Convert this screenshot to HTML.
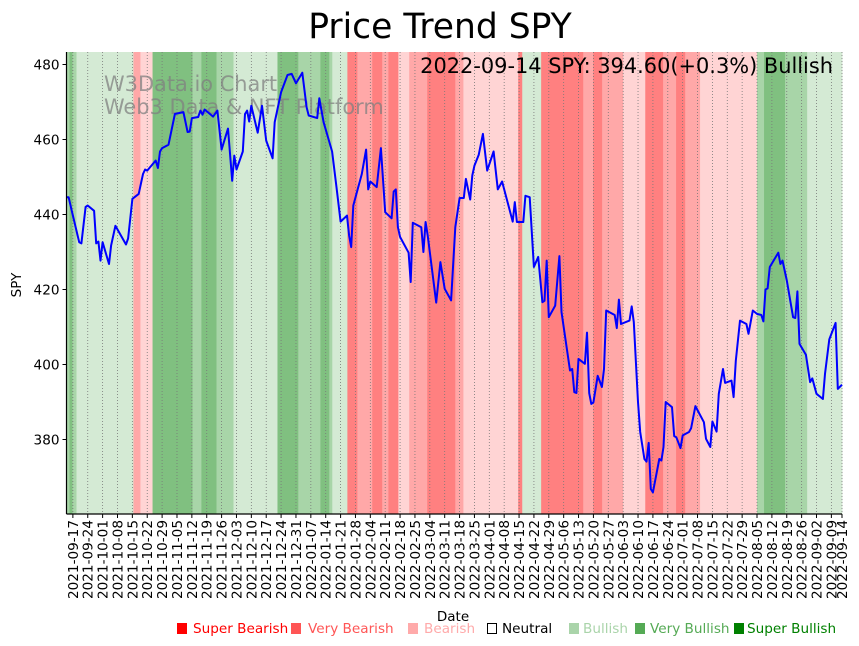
<!DOCTYPE html>
<html><head><meta charset="utf-8"><style>
body{margin:0;background:#fff;}
svg{display:block;font-family:"DejaVu Sans","Liberation Sans",sans-serif;}
</style></head><body>
<svg id="chart" width="859" height="646" viewBox="0 0 859 646" xmlns="http://www.w3.org/2000/svg">
<text x="440" y="38" font-size="34.5" text-anchor="middle">Price Trend SPY</text>
<g id="bands"></g>
<g id="grid"></g>
<g fill="#808080" fill-opacity="0.75" font-size="20.9">
<text x="104" y="91">W3Data.io Chart</text>
<text x="104" y="114">Web3 Data &amp; NFT Platform</text>
</g>
<polyline id="line" fill="none" stroke="#0000ff" stroke-width="2" stroke-linejoin="round"></polyline>
<text x="833" y="73" font-size="20.9" text-anchor="end">2022-09-14 SPY: 394.60(+0.3%) Bullish</text>
<g id="axes"></g>
<text transform="translate(21,285) rotate(-90)" font-size="13.5" text-anchor="middle">SPY</text>
<text x="453" y="621" font-size="13.5" text-anchor="middle">Date</text>
<g font-size="13.6">
<g><rect x="177" y="623" width="10" height="11" fill="#ff0000"/><text x="193" y="633" fill="#ff0000">Super Bearish</text></g>
<g><rect x="291" y="623" width="10" height="11" fill="#ff5555"/><text x="308" y="633" fill="#ff5555">Very Bearish</text></g>
<g><rect x="408" y="623" width="10" height="11" fill="#ffaaaa"/><text x="424" y="633" fill="#ffaaaa">Bearish</text></g>
<g><rect x="487.5" y="623.5" width="9" height="10" fill="#fff" stroke="#000"/><text x="502" y="633" fill="#000">Neutral</text></g>
<g><rect x="569" y="623" width="10" height="11" fill="#aad4aa"/><text x="583" y="633" fill="#aad4aa">Bullish</text></g>
<g><rect x="635" y="623" width="10" height="11" fill="#55aa55"/><text x="650" y="633" fill="#55aa55">Very Bullish</text></g>
<g><rect x="734" y="623" width="10" height="11" fill="#008000"/><text x="747" y="633" fill="#008000">Super Bullish</text></g>
</g>
</svg>
<script>
// days since 2021-09-14
const priceDays=[0,1,3,6,7,9,10,13,14,15,16,17,20,21,23,28,29,31,34,36,37,38,42,43,44,45,48,51,55,57,58,59,62,63,64,65,69,71,73,76,78,79,80,83,84,85,86,87,90,92,94,97,98,101,104,106,108,111,113,114,118,119,121,125,127,129,132,133,134,135,139,141,142,143,146,148,150,153,154,155,156,157,161,162,163,167,168,169,170,174,176,178,181,183,185,187,188,190,191,192,194,196,198,201,203,205,210,211,212,215,216,218,220,222,224,225,226,227,230,232,233,237,238,239,240,241,244,245,246,247,248,250,252,253,254,258,259,260,261,265,266,267,269,270,272,273,274,275,276,279,280,281,282,285,286,287,289,290,293,294,296,300,301,303,304,306,307,309,310,313,314,315,317,320,321,323,325,327,328,329,330,331,335,336,337,339,342,343,344,345,348,350,351,353,356,357,359,362,363,365];
const priceValues=[444.6,444.6,439.7,432.6,432.3,442,442.4,441,432.3,432.8,427.7,432.6,426.8,431.7,437,432,433.6,444.2,445.5,450.8,452,451.7,454.4,452.4,456.8,457.7,458.6,466.8,467.3,462,462.1,465.7,466,467.7,466.6,468,466.1,467.7,457.3,462.9,449,455.7,452,456.8,466.8,467.7,464.8,469,461.8,469,459.7,455,464.6,472.6,477.2,477.5,475,477.8,468.6,466.4,465.7,471,464.6,456.8,447.7,438.1,439.7,434.4,431.3,442.4,450.8,457.3,446.7,448.8,447.3,457.7,440.6,439,446.1,446.7,436.6,434,429.8,422,437.8,436.6,430,438,434.4,416.5,427.3,420.2,417.1,436.6,444.4,444.4,449.5,444,450.4,453,455.9,461.5,451.7,456.8,446.7,448.8,438.1,443.3,438,438,445,444.6,426,428.7,416.6,417,427.7,412.6,415.7,428.9,414,398.4,398.8,392.6,392.4,401.5,400.2,408.5,392.4,389.5,389.9,397,394,398.8,414.4,413.2,409.7,417.3,410.8,411.7,415.5,411.3,390,382,374.8,374.1,379.1,366.8,365.9,374.8,374.4,378,390,388.6,380.9,380.6,377.7,381.1,382,383,388.9,384.6,380.2,378,384.8,382.1,392.2,398.8,395.1,395.7,391.3,401,411.7,410.8,408.2,414.4,413.5,413.2,411.5,420,420.3,426,429.8,426.8,427.7,422.4,412.6,412.4,419.5,405.5,402.6,395.3,396.3,392.2,390.8,397.5,406.7,411.1,393.5,394.6];
// regime bands: start day, end day, level (-3..3)
const bandStarts=[0,1.4,2.8,4.7,31.5,34.8,40.5,59.3,63.5,70.6,78.6,99.3,109.1,112.4,119.5,123.7,125.1,132.2,136.9,143.9,148.6,151.5,156.2,161.3,169.8,183,186.8,212.6,214.5,223.4,243.2,247.9,252.1,262,272.4,280.8,286.9,291.2,298.2,325,328.3,338.2,348.6];
const bandEnds=[1.4,2.8,4.7,31.5,34.8,40.5,59.3,63.5,70.6,78.6,99.3,109.1,112.4,119.5,123.7,125.1,132.2,136.9,143.9,148.6,151.5,156.2,161.3,169.8,183,186.8,212.6,214.5,223.4,243.2,247.9,252.1,262,272.4,280.8,286.9,291.2,298.2,325,328.3,338.2,348.6,365];
const bandLevels=[2,3,2,1,-2,-1,3,2,3,2,1,3,2,2,3,2,1,-3,-2,-3,-2,-3,-1,-2,-3,-2,-1,-3,1,-3,-2,-3,-2,-1,-3,-2,-3,-2,-1,2,3,2,1];
const yTicks=[380,400,420,440,460,480];
const startDate="2021-09-14";

const X0=66.5,X1=842,Y0=52,Y1=514,DMAX=365;
const xs=d=>X0+(d/DMAX)*(X1-X0);
const ys=v=>439.5-(v-380)*3.75;
const NS="http://www.w3.org/2000/svg";
const mk=(t,a,p)=>{const e=document.createElementNS(NS,t);for(const k in a)e.setAttribute(k,a[k]);p.appendChild(e);return e;};
const colors={"-3":"#ff8080","-2":"#ffa8a8","-1":"#ffd4d4","0":"#ffffff","1":"#d4ead4","2":"#a8d5a8","3":"#80c080"};
const bandsG=document.getElementById('bands');
bandStarts.forEach((s,i)=>{
  const r=mk('rect',{x:xs(s),y:Y0,width:xs(bandEnds[i])-xs(s)+0.4,height:Y1-Y0,fill:colors[bandLevels[i]]},bandsG);
  
  
});
const base=new Date(startDate+"T00:00:00Z");
const tickDays=[];for(let d=3;d<=DMAX;d+=7)tickDays.push(d);tickDays.push(365);
const fmt=d=>{const t=new Date(base.getTime()+d*86400000);return t.toISOString().slice(0,10);};
const grid=document.getElementById('grid'),axes=document.getElementById('axes');
tickDays.forEach(d=>{
  const x=xs(d);
  const g=mk('line',{x1:x,x2:x,y1:Y0,y2:Y1,stroke:'#777',"stroke-width":0.8,"stroke-dasharray":"1,2"},grid);
  
  
  const t=mk('line',{x1:x,x2:x,y1:Y1,y2:Y1+4,stroke:'#000',"stroke-width":1},axes);
  
  
  const l=mk('text',{transform:`translate(${x+5},${Y1+6}) rotate(-90)`,"font-size":13.6,"text-anchor":"end"},axes);
  l.textContent=fmt(d);
  
  
});
yTicks.forEach(v=>{
  const y=ys(v);
  const t=mk('line',{x1:X0-4,x2:X0,y1:y,y2:y,stroke:'#000'},axes);
  
  
  const l=mk('text',{x:X0-7,y:y+5,"font-size":13.6,"text-anchor":"end"},axes);
  l.textContent=v;
  
  
});
const ls=mk('line',{x1:X0,x2:X0,y1:Y0,y2:Y1,stroke:'#000',"stroke-width":1.2},axes);


const bs=mk('line',{x1:X0,x2:X1,y1:Y1,y2:Y1,stroke:'#000',"stroke-width":1.2},axes);


document.getElementById('line').setAttribute('points',priceDays.map((d,i)=>xs(d).toFixed(1)+','+ys(priceValues[i]).toFixed(1)).join(' '));
</script>
</body></html>
